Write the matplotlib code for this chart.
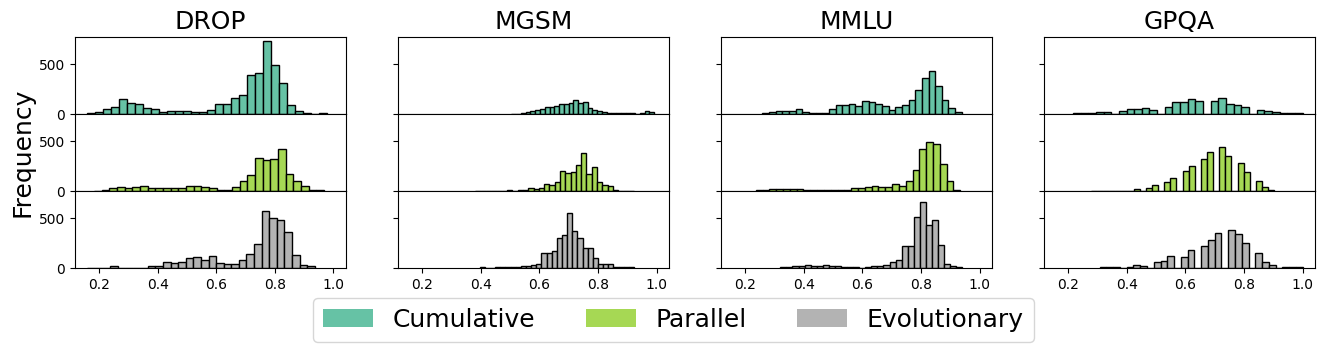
import numpy as np
import matplotlib
matplotlib.use("Agg")
import matplotlib.pyplot as plt
from matplotlib.patches import Patch

datasets = ["DROP", "MGSM", "MMLU", "GPQA"]
methods = ["Cumulative", "Parallel", "Evolutionary"]
colors = ["#66c2a5", "#a6d854", "#b3b3b3"]

# (low edge, high edge) of the 30 histogram bins, and counts per bin
ranges = {
    "DROP": [(0.16, 0.977), (0.183, 0.968), (0.16, 0.936)],
    "MGSM": [(0.505, 0.992), (0.382, 0.923), (0.397, 0.923)],
    "MMLU": [(0.259, 0.939), (0.236, 0.934), (0.32, 0.941)],
    "GPQA": [(0.216, 1.0), (0.277, 0.903), (0.307, 1.0)],
}

drop_cum = [13, 23, 54, 67, 148, 107, 97, 57, 47, 17, 30, 30, 30, 20, 20,
            40, 97, 97, 158, 188, 389, 409, 738, 490, 309, 94, 30, 13, 0, 10]
drop_par = [3, 13, 30, 40, 30, 40, 50, 30, 30, 30, 30, 30, 50, 50, 40,
            30, 13, 13, 40, 97, 163, 330, 307, 323, 420, 173, 103, 53, 7, 7]
drop_evo = [5, 5, 5, 17, 3, 3, 3, 3, 23, 23, 63, 53, 63, 97, 107,
            83, 123, 53, 43, 43, 83, 143, 243, 573, 507, 483, 363, 133, 33, 17]

mgsm_cum = [3, 3, 7, 20, 30, 40, 47, 67, 67, 77, 97, 97, 107, 137, 107,
            117, 57, 40, 27, 17, 10, 7, 7, 7, 7, 7, 0, 13, 30, 20]
mgsm_par = [3, 3, 3, 3, 3, 3, 13, 3, 13, 13, 33, 23, 33, 73, 63,
            93, 203, 183, 193, 263, 383, 173, 243, 93, 63, 53, 13, 3, 3, 3]
mgsm_evo = [10, 0, 0, 7, 7, 7, 7, 7, 23, 17, 30, 43, 153, 153, 173,
            303, 333, 557, 373, 303, 203, 203, 97, 43, 43, 43, 13, 13, 7, 7]

mmlu_cum = [10, 20, 30, 30, 30, 47, 20, 10, 10, 10, 47, 87, 87, 97, 77,
            127, 117, 97, 77, 37, 67, 87, 137, 237, 367, 437, 277, 137, 57, 20]
mmlu_par = [7, 13, 23, 23, 23, 23, 23, 13, 13, 7, 7, 7, 7, 13, 33,
            33, 43, 53, 43, 43, 67, 53, 103, 213, 423, 493, 473, 273, 97, 13]
mmlu_evo = [7, 7, 17, 17, 27, 17, 17, 27, 17, 17, 7, 7, 7, 0, 7,
            17, 17, 27, 63, 77, 223, 223, 513, 663, 433, 483, 233, 37, 17, 7]

gpqa_cum = [10, 10, 10, 20, 20, 0, 30, 47, 47, 57, 37, 0, 67, 117, 117,
            147, 127, 0, 127, 157, 97, 87, 67, 0, 37, 27, 17, 10, 10, 10]
gpqa_par = [3, 3, 0, 3, 3, 0, 3, 23, 0, 33, 63, 0, 93, 133, 0,
            203, 253, 0, 323, 393, 0, 443, 353, 0, 283, 193, 0, 103, 43, 13]
gpqa_evo = [7, 7, 7, 0, 13, 33, 23, 0, 63, 73, 123, 0, 113, 183, 0,
            223, 283, 353, 0, 383, 343, 253, 0, 153, 63, 33, 0, 7, 7, 7]

counts = {
    "DROP": [drop_cum, drop_par, drop_evo],
    "MGSM": [mgsm_cum, mgsm_par, mgsm_evo],
    "MMLU": [mmlu_cum, mmlu_par, mmlu_evo],
    "GPQA": [gpqa_cum, gpqa_par, gpqa_evo],
}

fig, axes = plt.subplots(3, 4, figsize=(13.24, 3.52), dpi=100,
                         sharex=True, sharey=True,
                         gridspec_kw=dict(hspace=0, wspace=0.193))
fig.subplots_adjust(left=0.0566, right=0.9932, top=0.8949, bottom=0.2386)

for j, ds in enumerate(datasets):
    for i in range(3):
        ax = axes[i, j]
        lo, hi = ranges[ds][i]
        c = np.array(counts[ds][i], dtype=float)
        edges = np.linspace(lo, hi, len(c) + 1)
        centers = (edges[:-1] + edges[1:]) / 2
        ax.hist(centers, bins=edges, weights=c, color=colors[i],
                edgecolor="black", linewidth=1)
        if i == 0:
            ax.set_title(ds, fontsize=18)
        if j > 0:
            ax.tick_params(labelleft=False)

axes[0, 0].set_yticks([0, 500])
fig.text(0.017, 0.567, "Frequency", rotation=90, fontsize=18,
         ha="center", va="center")

handles = [Patch(facecolor=colors[k], label=methods[k]) for k in range(3)]
fig.legend(handles=handles, loc="lower center", ncol=3, fontsize=18,
           bbox_to_anchor=(0.5087, -0.006), frameon=True, columnspacing=2.0)

fig.savefig("out.png", dpi=100)
